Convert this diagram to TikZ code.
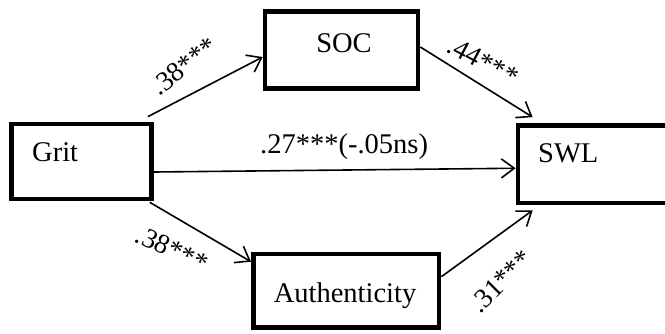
\documentclass[tikz,border=0pt]{standalone}
\usepackage{fontspec}
\setmainfont{Liberation Serif}
\usetikzlibrary{arrows.meta}
\begin{document}
\begin{tikzpicture}[x=1pt,y=-1pt,
  box/.style={draw, line width=4.7pt, inner sep=0pt, outer sep=2.35pt},
  arr/.style={line width=1.6pt, -{Straight Barb[length=13pt,width=19pt,line width=1.6pt]}},
  txt/.style={font=\fontsize{28.5}{34}\selectfont, inner sep=0pt},
  lbl/.style={font=\fontsize{27.5}{32}\selectfont, inner sep=0pt}]
\useasboundingbox (0,0) rectangle (665,333);
% boxes
\node[box, minimum width=139.8pt, minimum height=75pt] (grit) at (81.6,161.5) {};
\node[box, minimum width=153pt, minimum height=76.6pt] (soc) at (341.5,50) {};
\node[box, minimum width=185.7pt, minimum height=73.5pt] (auth) at (346.2,290.8) {};
\node[box, minimum width=200pt, minimum height=77.5pt] (swl) at (618,164.25) {};
% box texts
\node[txt, anchor=base west] (gritt) at (32,161) {Grit};
\node[txt, anchor=base] (soct) at (344,52) {SOC};
\node[txt, anchor=base] (autht) at (345,302) {Authenticity};
\node[txt, anchor=base west] (swlt) at (538,162) {SWL};
% connectors
\draw[arr] ([shift={(-6,-5)}]grit.north east) -- ([shift={(0,7)}]soc.west);
\draw[arr] ([shift={(0,-3)}]soc.east) -- ([shift={(17,-6)}]swl.north west);
\draw[arr] ([shift={(0,10.5)}]grit.east) -- ([shift={(0,4)}]swl.west);
\draw[arr] ([shift={(-4,1)}]grit.south east) -- ([shift={(0,10)}]auth.north west);
\draw[arr] ([shift={(0,25)}]auth.north east) -- ([shift={(17,5)}]swl.south west);
% labels
\node[txt, anchor=base west] (ldirect) at (260,153) {.27***(-.05ns)};
\node[lbl, rotate=38] (l1) at (184,66) {.38***};
\node[lbl, rotate=-28] (l2) at (483,61) {.44***};
\node[lbl, rotate=-25] (l3) at (172,249) {.38***};
\node[lbl, rotate=45] (l4) at (501,281) {.31***};
\end{tikzpicture}
\end{document}
